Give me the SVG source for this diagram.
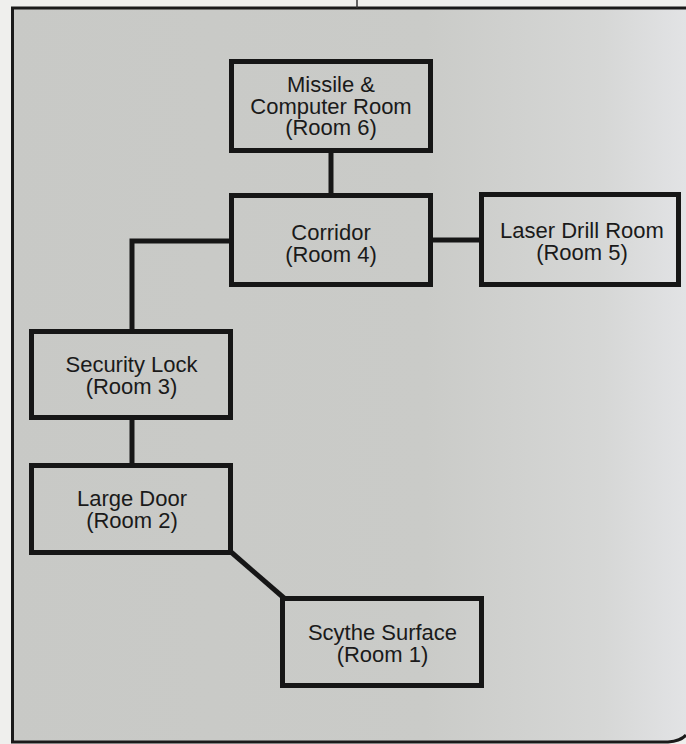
<svg xmlns="http://www.w3.org/2000/svg" width="686" height="744" viewBox="0 0 686 744">
  <defs>
    <linearGradient id="paper" x1="0" y1="0" x2="686" y2="0" gradientUnits="userSpaceOnUse">
      <stop offset="0" stop-color="#c8c9c6"/>
      <stop offset="0.62" stop-color="#cacbc8"/>
      <stop offset="0.88" stop-color="#d6d7d6"/>
      <stop offset="1" stop-color="#e2e3e5"/>
    </linearGradient>
    <style>
      .box { fill: none; stroke: #161616; stroke-width: 5; }
      .conn { fill: none; stroke: #161616; stroke-width: 5; stroke-linejoin: miter; }
      .frame { fill: none; stroke: #1a1a1a; stroke-width: 3; }
      .lbl { font-family: "Liberation Sans", Arial, Helvetica, sans-serif; font-size: 22px; fill: #1a1a1a; text-anchor: middle; }
    </style>
  </defs>

  <!-- page -->
  <rect x="0" y="0" width="686" height="744" fill="#efefed"/>
  <path d="M12.5,8 H686 V735 Q681,741 668,742 H12.5 Z" fill="url(#paper)"/>
  <g id="frame">
    <path class="frame" d="M11,8 H686"/>
    <path class="frame" d="M12.5,7 V742"/>
    <path class="frame" d="M11,742 H668 Q681,741 686,735"/>
    <path d="M357,0 V8" stroke="#333" stroke-width="1.5"/>
  </g>

  <g id="connectors">
    <path class="conn" d="M331,153 V193"/>
    <path class="conn" d="M433,240 H479"/>
    <path class="conn" d="M229,241 H132 V329"/>
    <path class="conn" d="M132,420 V463"/>
    <path class="conn" d="M231,552 L284,598"/>
  </g>

  <g id="room6">
    <rect class="box" x="231.5" y="61.5" width="199" height="89"/>
    <text class="lbl" x="331" y="92">Missile &amp;</text>
    <text class="lbl" x="331" y="113.5">Computer Room</text>
    <text class="lbl" x="331" y="135">(Room 6)</text>
  </g>

  <g id="room4">
    <rect class="box" x="231.5" y="195.5" width="199" height="89"/>
    <text class="lbl" x="331" y="239.5">Corridor</text>
    <text class="lbl" x="331" y="261.5">(Room 4)</text>
  </g>

  <g id="room5">
    <rect class="box" x="481.5" y="194.5" width="197" height="90"/>
    <text class="lbl" x="582" y="238">Laser Drill Room</text>
    <text class="lbl" x="582" y="260">(Room 5)</text>
  </g>

  <g id="room3">
    <rect class="box" x="31.5" y="331.5" width="199" height="86"/>
    <text class="lbl" x="131.5" y="372">Security Lock</text>
    <text class="lbl" x="131.5" y="393.5">(Room 3)</text>
  </g>

  <g id="room2">
    <rect class="box" x="31.5" y="465.5" width="199" height="87"/>
    <text class="lbl" x="132" y="506">Large Door</text>
    <text class="lbl" x="132" y="527.5">(Room 2)</text>
  </g>

  <g id="room1">
    <rect class="box" x="282.5" y="598.5" width="199" height="87"/>
    <text class="lbl" x="382.5" y="639.5">Scythe Surface</text>
    <text class="lbl" x="382.5" y="661.5">(Room 1)</text>
  </g>
</svg>
